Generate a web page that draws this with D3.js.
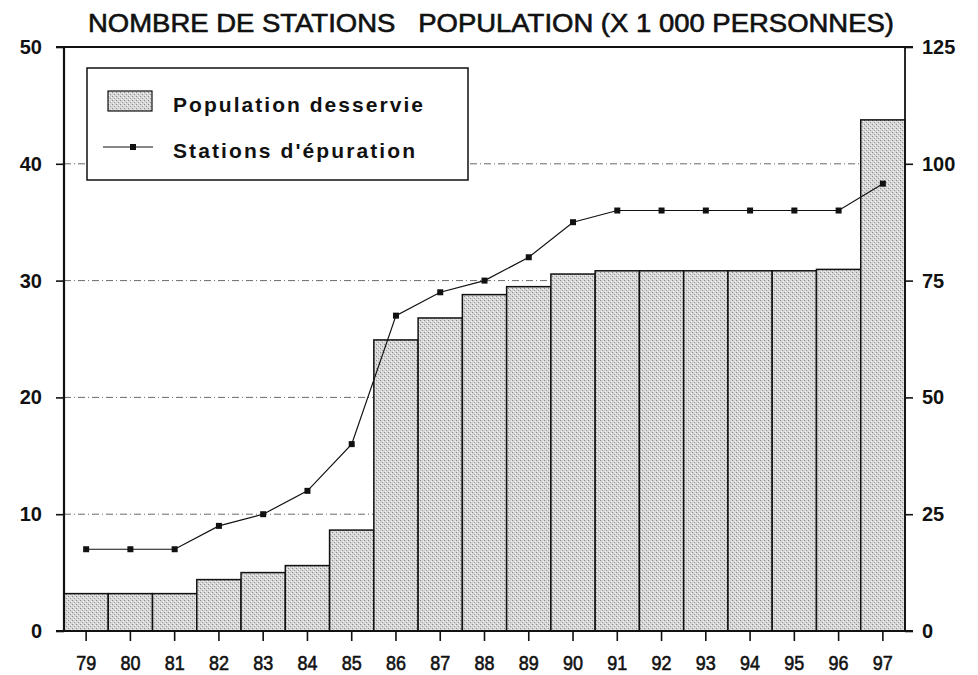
<!DOCTYPE html>
<html>
<head>
<meta charset="utf-8">
<script src="https://cdn.jsdelivr.net/npm/d3@7"></script>
<style>
  body { margin: 0; background: #fff; }
  svg { display: block; }
  .lab { font-family: "Liberation Sans", Arial, sans-serif; font-weight: bold; fill: #111; }
</style>
</head>
<body>
<svg id="chart"></svg>
<script>
// years (x axis)
var years = ["79","80","81","82","83","84","85","86","87","88","89","90","91","92","93","94","95","96","97"];
// population desservie (x 1000 personnes), right axis
var population = [8, 8, 8, 11, 12.5, 14, 21.6, 62.3, 67, 72, 73.7, 76.4, 77.1, 77.1, 77.1, 77.1, 77.1, 77.4, 109.4];
// nombre de stations d'epuration, left axis
var stations = [7, 7, 7, 9, 10, 12, 16, 27, 29, 30, 32, 35, 36, 36, 36, 36, 36, 36, 38.3];
var leftTicks = [0, 10, 20, 30, 40, 50];
var rightTicks = [0, 25, 50, 75, 100, 125];
var gridTicks = [10, 20, 30, 40];

var width = 978, height = 675
var margin = { top: 47, bottom: 44, left: 64, right: 73 }

var svg = d3.select("#chart").attr("width", width).attr("height", height)

var x = d3.scaleBand().domain(years)
    .range([margin.left, width - margin.right]).padding(0)
var yL = d3.scaleLinear().domain([0, 50]).range([height - margin.bottom, margin.top])
var yR = d3.scaleLinear().domain([0, 125]).range([height - margin.bottom, margin.top])

// stipple pattern for the bars
var defs = svg.append("defs")
var pat = defs.append("pattern").attr("id", "stip")
    .attr("width", 4).attr("height", 4).attr("patternUnits", "userSpaceOnUse")
pat.append("rect").attr("width", 4).attr("height", 4).attr("fill", "#d6d6d6")
pat.append("rect").attr("x", 0).attr("y", 0).attr("width", 1).attr("height", 1).attr("fill", "#888")
pat.append("rect").attr("x", 2).attr("y", 2).attr("width", 1).attr("height", 1).attr("fill", "#999")
pat.append("rect").attr("x", 3).attr("y", 1).attr("width", 1).attr("height", 1).attr("fill", "#f4f4f4")
pat.append("rect").attr("x", 1).attr("y", 3).attr("width", 1).attr("height", 1).attr("fill", "#f0f0f0")

// grid lines
svg.append("g").selectAll("line").data(gridTicks).enter().append("line")
    .attr("x1", margin.left).attr("x2", width - margin.right)
    .attr("y1", function(d) { return yL(d) }).attr("y2", function(d) { return yL(d) })
    .attr("stroke", "#444").attr("stroke-width", 0.8)
    .attr("stroke-dasharray", "7,3,1,3")

// bars
svg.append("g").selectAll("rect").data(years).enter().append("rect")
    .attr("x", function(d) { return x(d) })
    .attr("width", x.bandwidth())
    .attr("y", function(d, i) { return yR(population[i]) })
    .attr("height", function(d, i) { return yR(0) - yR(population[i]) })
    .attr("fill", "url(#stip)")
    .attr("stroke", "#111").attr("stroke-width", 1.5)

// line
var line = d3.line()
    .x(function(d, i) { return x(years[i]) + x.bandwidth() / 2 })
    .y(function(d) { return yL(d) })
svg.append("path").datum(stations)
    .attr("d", line).attr("fill", "none")
    .attr("stroke", "#111").attr("stroke-width", 1.2)
svg.append("g").selectAll("rect").data(stations).enter().append("rect")
    .attr("x", function(d, i) { return x(years[i]) + x.bandwidth() / 2 - 3 })
    .attr("y", function(d) { return yL(d) - 3 })
    .attr("width", 6).attr("height", 6).attr("fill", "#111")

// axes
var axL = svg.append("g").attr("transform", "translate(" + margin.left + ",0)")
    .call(d3.axisLeft(yL).tickValues(leftTicks).tickSize(8).tickPadding(14).tickFormat(d3.format("d")))
var axR = svg.append("g").attr("transform", "translate(" + (width - margin.right) + ",0)")
    .call(d3.axisRight(yR).tickValues(rightTicks).tickSize(8).tickPadding(9).tickFormat(d3.format("d")))
var axB = svg.append("g").attr("transform", "translate(0," + yL(0) + ")")
    .call(d3.axisBottom(x).tickSize(10).tickPadding(14))

;[axL, axR, axB].forEach(function(a) {
    a.select(".domain").remove()
    a.selectAll(".tick line").attr("stroke", "#111").attr("stroke-width", 1.6)
    a.selectAll("text").attr("class", "lab").style("font-size", "20px")
})
axB.selectAll("text").style("font-size", "21px").style("font-weight", "normal")
    .attr("dy", "0.71em")
    .attr("textLength", 20).attr("lengthAdjust", "spacingAndGlyphs")
    .attr("stroke", "#111").attr("stroke-width", 0.6)

// frame lines
svg.append("line").attr("x1", margin.left).attr("x2", margin.left)
    .attr("y1", yL(50)).attr("y2", yL(0)).attr("stroke", "#111").attr("stroke-width", 2.2)
svg.append("line").attr("x1", width - margin.right).attr("x2", width - margin.right)
    .attr("y1", yL(50)).attr("y2", yL(0)).attr("stroke", "#111").attr("stroke-width", 1.8)
svg.append("line").attr("x1", margin.left - 8).attr("x2", width - margin.right + 8)
    .attr("y1", yL(50)).attr("y2", yL(50)).attr("stroke", "#111").attr("stroke-width", 1.8)
svg.append("line").attr("x1", margin.left - 8).attr("x2", width - margin.right + 8)
    .attr("y1", yL(0)).attr("y2", yL(0)).attr("stroke", "#111").attr("stroke-width", 1.8)

// title
svg.append("text").attr("class", "lab")
    .attr("x", 88).attr("y", 32)
    .attr("xml:space", "preserve").style("white-space", "pre")
    .attr("textLength", 806).attr("lengthAdjust", "spacingAndGlyphs")
    .style("font-size", "25px").style("font-weight", "normal")
    .attr("stroke", "#111").attr("stroke-width", 0.6)
    .text("NOMBRE DE STATIONS   POPULATION (X 1 000 PERSONNES)")

// legend
var lg = svg.append("g")
lg.append("rect").attr("x", 87).attr("y", 68).attr("width", 381).attr("height", 112)
    .attr("fill", "#fff").attr("stroke", "#111").attr("stroke-width", 1.5)
lg.append("rect").attr("x", 108).attr("y", 91).attr("width", 44).attr("height", 20)
    .attr("fill", "url(#stip)").attr("stroke", "#111").attr("stroke-width", 1.2)
lg.append("line").attr("x1", 103).attr("x2", 153).attr("y1", 147).attr("y2", 147)
    .attr("stroke", "#111").attr("stroke-width", 1.2)
lg.append("rect").attr("x", 130).attr("y", 144).attr("width", 6).attr("height", 6).attr("fill", "#111")
lg.append("text").attr("class", "lab").attr("x", 173).attr("y", 112)
    .attr("textLength", 250).style("font-size", "21px")
    .text("Population desservie")
lg.append("text").attr("class", "lab").attr("x", 173).attr("y", 158)
    .attr("textLength", 242).style("font-size", "21px")
    .text("Stations d'épuration")
</script>
</body>
</html>
